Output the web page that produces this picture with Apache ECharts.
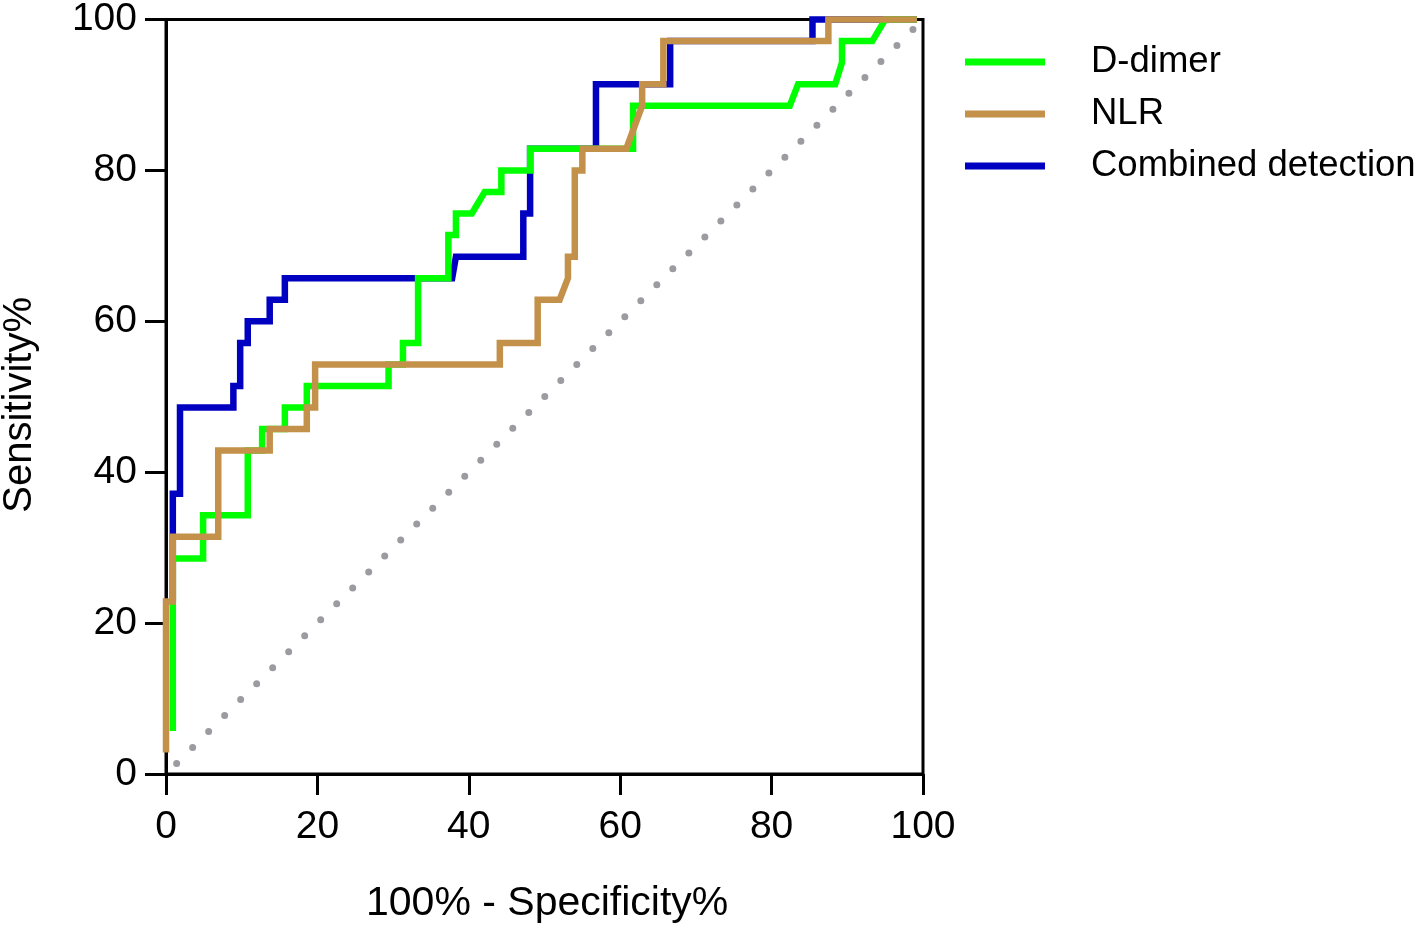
<!DOCTYPE html>
<html>
<head>
<meta charset="utf-8">
<script src="https://cdn.jsdelivr.net/npm/echarts@6/dist/echarts.min.js"></script>
<style>
html,body{margin:0;padding:0;background:#fff;}
#chart{width:1416px;height:930px;}
</style>
</head>
<body>
<div id="chart"></div>
<script>
// Tick labels
const xTicks = [0, 20, 40, 60, 80, 100];
const yTicks = [0, 20, 40, 60, 80, 100];
const seriesNames = ['D-dimer', 'NLR', 'Combined detection'];

// [100% - Specificity%, Sensitivity%]
const dDimer = [
  [0.9,5.71],[0.9,28.57],[4.9,28.57],[4.9,34.29],[10.8,34.29],[10.8,42.86],[12.7,42.86],[12.7,45.71],
  [15.7,45.71],[15.7,48.57],[18.6,48.57],[18.6,51.43],[29.4,51.43],[29.4,54.29],[31.3,54.29],[31.3,57.14],
  [33.3,57.14],[33.3,65.71],[37.3,65.71],[37.3,71.43],[38.3,71.43],[38.3,74.29],[40.4,74.29],[42.1,77.14],
  [44.3,77.14],[44.3,80],[48.1,80],[48.1,82.86],[61.7,82.86],[61.7,88.57],[82.4,88.57],[83.5,91.43],
  [88.4,91.43],[89.3,94.29],[89.3,97.14],[93.3,97.14],[95.0,100],[99.2,100]
];
const nlr = [
  [0,2.86],[0,22.86],[0.9,22.86],[0.9,31.43],[6.9,31.43],[6.9,42.86],[13.7,42.86],[13.7,45.71],
  [18.6,45.71],[18.6,48.57],[19.7,48.57],[19.7,54.29],[44.1,54.29],[44.1,57.14],[49.1,57.14],[49.1,62.86],
  [52.0,62.86],[53.1,65.71],[53.1,68.57],[54.0,68.57],[54.0,80],[55.0,80],[55.0,82.86],[60.8,82.86],
  [62.9,88.57],[62.9,91.43],[65.7,91.43],[65.7,97.14],[87.5,97.14],[87.5,100],[99.2,100]
];
const combined = [
  [0.9,22.86],[0.9,37.14],[1.85,37.14],[1.85,48.57],[8.9,48.57],[8.9,51.43],[9.8,51.43],[9.8,57.14],
  [10.8,57.14],[10.8,60],[13.7,60],[13.7,62.86],[15.7,62.86],[15.7,65.71],[37.8,65.71],[38.3,68.57],
  [47.2,68.57],[47.2,74.29],[48.1,74.29],[48.1,82.86],[56.8,82.86],[56.8,91.43],[66.6,91.43],[66.6,97.14],
  [85.4,97.14],[85.4,100],[99.2,100]
];
const reference = [[0,0],[100,100]];

const FONT = '"Liberation Sans", Arial, sans-serif';
const chart = echarts.init(document.getElementById('chart'), null, {renderer:'canvas'});

function axisCommon(){
  return {
    type:'value', min:0, max:100, interval:20,
    axisLine:{show:true, onZero:false, lineStyle:{color:'#000', width:3}},
    axisTick:{show:true, inside:false, length:21, lineStyle:{color:'#000', width:3}},
    splitLine:{show:false},
    axisLabel:{color:'#000', fontSize:39, fontFamily:FONT}
  };
}
const xAxis = axisCommon();
xAxis.axisLabel.margin = 34;
xAxis.axisLabel.formatter = v => xTicks.includes(v) ? String(v) : '';
const yAxis = axisCommon();
yAxis.axisLabel.margin = 29;
yAxis.axisLabel.formatter = v => yTicks.includes(v) ? String(v) : '';

function lineSeries(name, data, color, z){
  return {
    name, type:'line', data, color, z, clip:false,
    showSymbol:false, symbol:'none', animation:false,
    lineStyle:{color, width:6.5, cap:'butt', join:'miter'}
  };
}

chart.setOption({
  animation:false,
  backgroundColor:'#fff',
  grid:{left:166, right:493, top:17, bottom:156, show:true, borderColor:'#000', borderWidth:3, backgroundColor:'transparent'},
  xAxis, yAxis,
  legend:{
    data:seriesNames, orient:'vertical', left:965, top:42, padding:0,
    icon:'rect', itemWidth:80, itemHeight:7, itemGap:12,
    textStyle:{fontSize:36.5, fontFamily:FONT, color:'#000', lineHeight:40, padding:[0,0,0,41]}
  },
  graphic:[
    {type:'text', left:366, top:883,
     style:{text:'100% - Specificity%', font:'41px ' + FONT, fill:'#000'}},
    {type:'text', rotation:Math.PI/2, left:0, top:297,
     style:{text:'Sensitivity%', font:'40px ' + FONT, fill:'#000'}}
  ],
  series:[
    {
      name:'ref', type:'line', data:reference, z:1, clip:false, showSymbol:false, symbol:'none', silent:true,
      lineStyle:{color:'#9c9ca0', width:7, type:[0,22.6], dashOffset:7.6, cap:'round'}
    },
    lineSeries('D-dimer', dDimer, '#00ff00', 3),
    lineSeries('NLR', nlr, '#c4914b', 4),
    lineSeries('Combined detection', combined, '#0000c0', 2)
  ]
});
</script>
</body>
</html>
